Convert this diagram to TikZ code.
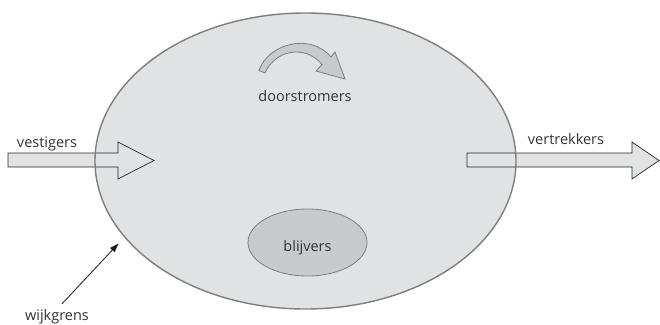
\documentclass[tikz,border=0pt]{standalone}
\usepackage{fontspec}
\setmainfont{Open Sans}
\usetikzlibrary{shapes.geometric,arrows.meta}
\definecolor{areafill}{HTML}{E1E2E4}
\definecolor{coreFill}{HTML}{C9CACC}
\definecolor{rimline}{HTML}{7E7E7E}
\definecolor{inktext}{HTML}{333333}
\tikzset{
  lbl/.style={text=inktext, font=\fontsize{14.5}{17}\selectfont, inner sep=0pt, anchor=base},
  blockarrow/.style={fill=areafill, draw=black!85, line width=0.7pt, line join=miter},
  flowarrow/.style={fill=coreFill, draw=rimline, line width=0.8pt, line join=miter},
}
\begin{document}
\begin{tikzpicture}[x=1pt,y=-1pt]
  \useasboundingbox (0,0) rectangle (660,324);
  % the neighbourhood
  \node[ellipse, fill=areafill, minimum width=421pt, minimum height=296pt, inner sep=0pt] (wijk) at (305.5,161) {};
  % incoming and outgoing block arrows
  \draw[blockarrow] (8,153) -- (118,153) -- (118,142) -- (154,160.5) -- (118,179) -- (118,167) -- (8,167) -- cycle;
  \draw[blockarrow] (467,153) -- (632,153) -- (632,142) -- (659,160.5) -- (632,179) -- (632,167) -- (467,167) -- cycle;
  % outline of the neighbourhood on top
  \node[ellipse, draw=rimline, line width=1.4pt, minimum width=421pt, minimum height=296pt, inner sep=0pt] at (wijk.center) {};
  % stayers
  \node[ellipse, fill=coreFill, draw=rimline, line width=0.8pt, minimum width=119pt, minimum height=67pt, inner sep=0pt] (kern) at (307.5,242.5) {};
  % curved arrow for movers within the area
  \draw[flowarrow] (259,70.5) .. controls (268,44) and (310,32) .. (331,57) -- (335,52) -- (345,79)
    -- (316,71) -- (322,64.5) .. controls (305,44) and (275,50) .. (265,73) -- cycle;
  % labels
  \node[lbl] (vest) at (47,147) {vestigers};
  \node[lbl] (vertr) at (566,144) {vertrekkers};
  \node[lbl] (door) at (305,101.5) {doorstromers};
  \node[lbl] (blijv) at (kern.center |- 0,251.5) {blijvers};
  \node[lbl] (grens) at (57,320) {wijkgrens};
  % pointer to the boundary
  \coordinate (grenspunt) at (118.5,243.5);
  \draw[-{Triangle[length=9pt,width=6pt]}, line width=0.8pt, black!90] (grens.north) ++(5,-5) -- (grenspunt);
\end{tikzpicture}
\end{document}
